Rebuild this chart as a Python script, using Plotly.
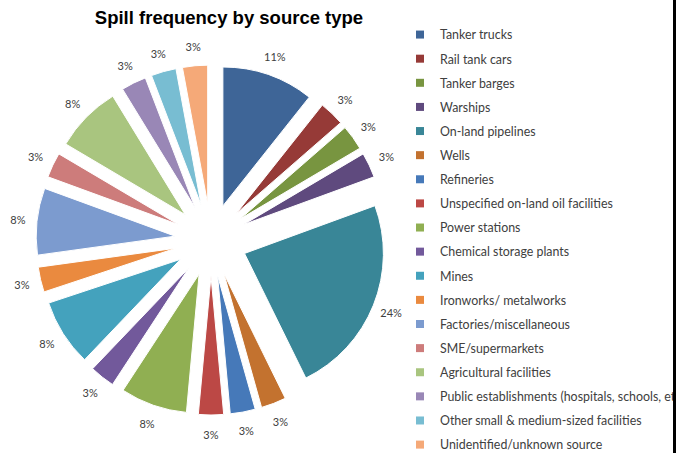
import plotly.graph_objects as go

# Share of recorded spills per source type (percent)
sources = [
    "Tanker trucks",
    "Rail tank cars",
    "Tanker barges",
    "Warships",
    "On-land pipelines",
    "Wells",
    "Refineries",
    "Unspecified on-land oil facilities",
    "Power stations",
    "Chemical storage plants",
    "Mines",
    "Ironworks/ metalworks",
    "Factories/miscellaneous",
    "SME/supermarkets",
    "Agricultural facilities",
    "Public establishments (hospitals, schools, etc.)",
    "Other small & medium-sized facilities",
    "Unidentified/unknown source",
]
shares = [11, 3, 3, 3, 24, 3, 3, 3, 8, 3, 8, 3, 8, 3, 8, 3, 3, 3]

colors = [
    "#3E6597", "#963A37", "#789540", "#5F4A7E", "#398697", "#C3722F",
    "#4679B9", "#BC4845", "#90AF52", "#72599B", "#44A2BD", "#EA8A3F",
    "#7C9BCF", "#CD7C7B", "#A9C57F", "#9987B6", "#78BDD2", "#F5A978",
]

W, H = 673, 453
CX, CY = 211, 240          # pie centre in pixels
label_font = dict(family="Lato, 'Open Sans', sans-serif", size=11, color="#404040")


def square_domain(radius):
    """Paper-fraction domain of a square of given pixel radius around the pie centre."""
    return dict(
        x=[(CX - radius) / W, (CX + radius) / W],
        y=[1 - (CY + radius) / H, 1 - (CY - radius) / H],
    )


fig = go.Figure()

# Exploded pie, starting at 12 o'clock and running clockwise
fig.add_trace(go.Pie(
    labels=sources,
    values=shares,
    sort=False,
    direction="clockwise",
    rotation=0,
    pull=[0.26] * len(shares),
    marker=dict(colors=colors, line=dict(color="white", width=1)),
    textinfo="none",
    showlegend=False,
    hoverinfo="label+value",
    domain=square_domain(175),
))

# Percentage labels: a transparent ring around the pie carries the texts,
# so each label sits on its slice's bisector a fixed distance from the centre
fig.add_trace(go.Pie(
    labels=sources,
    values=shares,
    sort=False,
    direction="clockwise",
    rotation=0,
    hole=0.84,
    marker=dict(colors=["rgba(0,0,0,0)"] * len(shares), line=dict(width=0)),
    texttemplate="%{value}%",
    textposition="inside",
    insidetextorientation="horizontal",
    insidetextfont=label_font,
    showlegend=False,
    hoverinfo="skip",
    domain=square_domain(211),
))

# Legend entries: one square swatch per source type
for name, col in zip(sources, colors):
    fig.add_trace(go.Scatter(
        x=[None], y=[None], mode="markers",
        marker=dict(symbol="square", size=8, color=col),
        name=name, legendgroup=name, showlegend=True,
        hoverinfo="skip",
    ))

fig.update_layout(
    width=W,
    height=H,
    margin=dict(l=0, r=0, t=0, b=0, autoexpand=False),
    paper_bgcolor="white",
    plot_bgcolor="white",
    xaxis=dict(visible=False),
    yaxis=dict(visible=False),
    title=dict(
        text="<b>Spill frequency by source type</b>",
        font=dict(family="'Liberation Sans', Arial, sans-serif", size=18.5, color="#000000"),
        x=229 / W, xanchor="center", xref="paper",
        y=1 - 18 / H, yanchor="middle", yref="container",
    ),
    legend=dict(
        x=400 / W, xanchor="left",
        y=1 - 20 / H, yanchor="top",
        font=dict(family="Lato, 'Open Sans', sans-serif", size=12.4, color="#404040"),
        tracegroupgap=5,
        bgcolor="rgba(0,0,0,0)",
        itemclick=False,
        itemdoubleclick=False,
    ),
)

fig.write_html(
    "out.html",
    post_script="document.getElementById('{plot_id}').style.borderRight='3px solid black';",
)
